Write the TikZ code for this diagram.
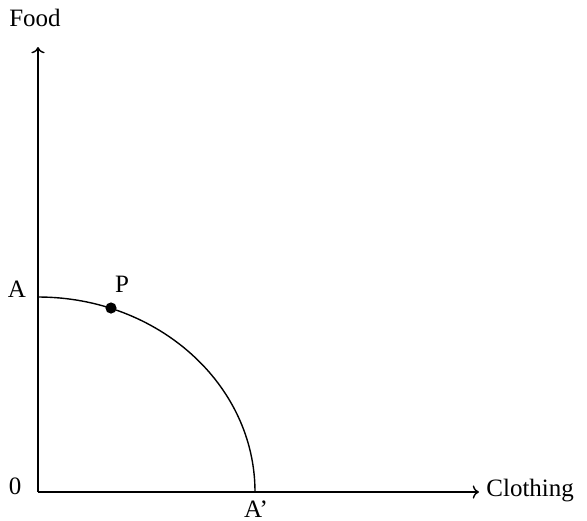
\documentclass[tikz,border=0pt]{standalone}
\usepackage{fontspec}
\setmainfont{Liberation Serif}
\usetikzlibrary{arrows.meta,positioning,calc}
\definecolor{ink}{HTML}{000000}
\tikzset{
  >=To,
  font=\fontsize{12.5}{15}\selectfont,
  axis/.style={->, draw=ink, line width=0.7pt},
  frontier/.style={draw=ink, line width=0.7pt},
  label/.style={text=ink, inner sep=1pt},
  point/.style={circle, fill=ink, minimum size=5.6pt, inner sep=0pt}
}
\begin{document}
\begin{tikzpicture}[x=0.5pt,y=-0.5pt]
\useasboundingbox (0,0) rectangle (587,520);
% axes
\coordinate (O) at (38,492);
\coordinate (ytop) at (38,47);
\coordinate (xend) at (479,492);
\draw[axis] (O)--(ytop);
\draw[axis] (O)--(xend);
\node[label] (food) at (35,18) {Food};
\node[label, anchor=west] (cloth) at (484,491) {Clothing};
\node[label] (zero) at (15,486) {0};

% production possibility frontier
\coordinate (A) at (38,297);
\coordinate (Ap) at (255,492);
\draw[frontier] (A) arc[start angle=90, end angle=0, x radius=108.5pt, y radius=97.5pt];
\node[label] (Alab) at (17,289) {A};
\node[label] (Aplab) at (256,509) {A’};
\node[point] (P) at (111,308) {};
\node[label] (Plab) at (122,284) {P};
\end{tikzpicture}
\end{document}
